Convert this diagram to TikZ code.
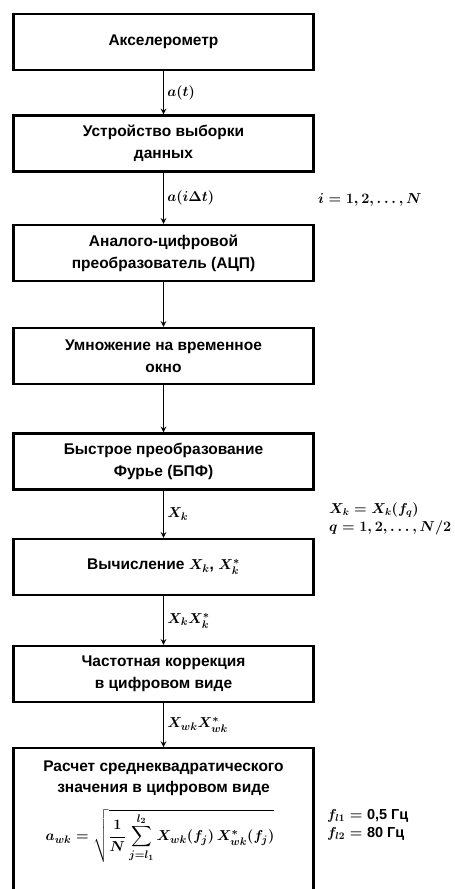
\documentclass[tikz,border=0pt]{standalone}
\usepackage{amsmath}
\usepackage{fontspec}
\setmainfont{Liberation Sans}
\begin{document}
\begin{tikzpicture}[x=1pt,y=-1pt]
        \tikzset{>=stealth}
        \tikzset{blok/.style={draw,line width=2.4pt,minimum width=300pt,minimum height=56pt,inner sep=0pt,align=center,font=\bfseries\boldmath\fontsize{15.5}{22}\selectfont},
          tekst/.style={inner sep=0pt,align=center,font=\bfseries\boldmath\fontsize{15.5}{21}\selectfont},
          strl/.style={->,line width=1.5pt},
          podp/.style={right,inner sep=3pt,font=\bfseries\boldmath\fontsize{15}{17}\selectfont},
          prim/.style={anchor=west,align=left,inner sep=0pt,font=\bfseries\boldmath\fontsize{14.5}{18}\selectfont}}
        \useasboundingbox (0,0) rectangle (455,889);
        \node[blok] (aks) at (163.5,42) {Акселерометр};
        \node[blok] (vyb) at (163.5,143.5) {Устройство выборки\\данных};
        \node[blok] (acp) at (163.5,253) {Аналого-цифровой\\преобразователь (АЦП)};
        \node[blok] (okno) at (163.5,356) {Умножение на временное\\окно};
        \node[blok] (bpf) at (163.5,461.5) {Быстрое преобразование\\Фурье (БПФ)};
        \node[blok] (vych) at (163.5,567) {Вычисление $X_k$, $X_k^{*}$};
        \node[blok] (korr) at (163.5,674) {Частотная коррекция\\в цифровом виде};
        % last box runs past the lower edge
        \node[blok,minimum height=150pt,anchor=north] (rms) at (163.5,747) {};
        \node[tekst] (rmst) at (163.5,778) {Расчет среднеквадратического\\значения в цифровом виде};
        \node[tekst] (frm) at (160,836) {$\displaystyle a_{wk}=\sqrt{\frac{1}{N}\sum_{j=l_1}^{l_2}X_{wk}(f_j)\,X^{*}_{wk}(f_j)}$};
        \draw[strl] (aks) -- node[podp] {$a(t)$} (vyb);
        \draw[strl] (vyb) -- node[podp] {$a(i\Delta t)$} (acp);
        \draw[strl] (acp) -- (okno);
        \draw[strl] (okno) -- (bpf);
        \draw[strl] (bpf) -- node[podp] {$X_k$} (vych);
        \draw[strl] (vych) -- node[podp] {$X_kX_k^{*}$} (korr);
        \draw[strl] (korr) -- node[podp] {$X_{wk}X_{wk}^{*}$} (rms);
        \node[prim] (ind) at (318,200) {$i=1, 2,\ldots, N$};
        \node[prim] (chast) at (329,519) {$X_k=X_k(f_q)$\\$q=1, 2,\ldots, N/2$};
        \node[prim] (pol) at (327,825) {$f_{l1}={}$0,5 Гц\\$f_{l2}={}$80 Гц};
    \end{tikzpicture}
\end{document}
